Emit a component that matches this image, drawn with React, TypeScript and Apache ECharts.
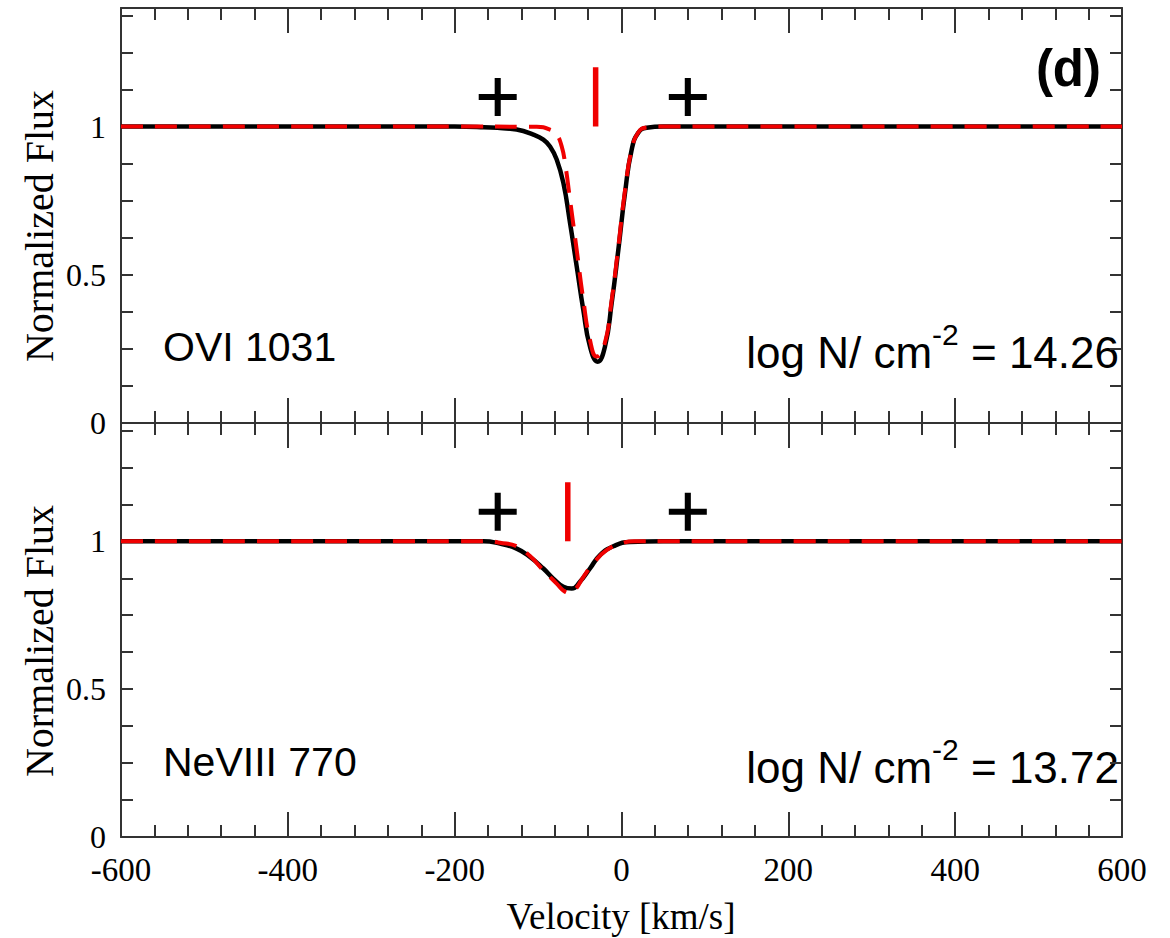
import React, { useEffect, useRef } from "react";
import * as echarts from "echarts";

// Velocity axis ticks
const velocityTicks = [-600, -400, -200, 0, 200, 400, 600];

// OVI 1031 panel: model profile (solid) and fitted profile (dashed)
const oviModelV = [-600, -400, -200, -165, -145.7, -125.7, -105.7, -93.7, -85.7, -77.7, -69.7, -61.7, -53.7, -45.8, -37.8, -28.6, -19.8, -11.8, -3.8, 4.2, 12.2, 20.1, 30.2, 50, 200, 600];
const oviModelF = [1.0, 1.0, 1.0, 0.998, 0.995, 0.99, 0.973, 0.956, 0.933, 0.889, 0.81, 0.675, 0.528, 0.382, 0.258, 0.207, 0.258, 0.404, 0.584, 0.776, 0.922, 0.979, 0.996, 1.0, 1.0, 1.0];
const oviFitV = [-600, -400, -200, -101.7, -85.7, -77.7, -71.7, -67.7, -61.7, -53.7, -45.8, -37.8, -29.8, -20, -12, -4, 4, 12, 20, 30, 50, 200, 600];
const oviFitF = [1.0, 1.0, 1.0, 0.999, 0.99, 0.973, 0.933, 0.877, 0.753, 0.584, 0.416, 0.28, 0.224, 0.27, 0.41, 0.59, 0.78, 0.92, 0.98, 0.997, 1.0, 1.0, 1.0];

// NeVIII 770 panel
const neModelV = [-600, -400, -200, -165.7, -145.7, -125.7, -109.7, -93.7, -81.8, -69.7, -59.7, -49.8, -37.8, -25.8, -9.8, 10.2, 50, 200, 600];
const neModelF = [1.0, 1.0, 1.0, 1.0, 0.992, 0.975, 0.947, 0.908, 0.874, 0.846, 0.84, 0.863, 0.908, 0.953, 0.983, 0.998, 1.0, 1.0, 1.0];
const neFitV = [-600, -400, -200, -160, -145.7, -125.7, -109.7, -93.7, -77.7, -68.5, -62, -55.5, -45.8, -33.8, -17.8, 2.2, 15, 50, 200, 600];
const neFitF = [1.0, 1.0, 1.0, 1.0, 0.995, 0.983, 0.95, 0.902, 0.857, 0.831, 0.826, 0.837, 0.879, 0.925, 0.97, 0.995, 1.0, 1.0, 1.0, 1.0];

// Component centroid velocities (red bars) and integration limits (plus marks)
const oviCentroid = -31;
const neCentroid = -64.4;
const barBottom = 1.0;
const barTop = 1.2;
const limitV = [-148.4, 79.5];
const limitF = 1.1;

const panelNames = ["OVI 1031", "NeVIII 770"];
const columnDensities = ["14.26", "13.72"];

const zip = (xs: number[], ys: number[]) => xs.map((x, i) => [x, ys[i]]);

const RED = "#f00000";
const AXIS = "#333333";
const SERIF = "'Liberation Serif', 'Times New Roman', serif";
const SANS = "'Liberation Sans', Arial, Helvetica, sans-serif";

const plusPath =
  "path://M0,42 L100,42 L100,58 L0,58 Z M42,0 L58,0 L58,100 L42,100 Z";

const LEFT = 121;
const WIDTH = 1001;
const TOPS = [8, 423];
const HEIGHTS = [415, 414];

function yLabel(v: number) {
  if (v === 0) return "0";
  if (v === 0.5) return "0.5";
  if (v === 1) return "1";
  return "";
}

export default function App() {
  const ref = useRef<HTMLDivElement>(null);

  useEffect(() => {
    if (!ref.current) return;
    const chart = echarts.init(ref.current, null, { renderer: "svg" });

    const grids = [0, 1].map((i) => ({
      left: LEFT,
      top: TOPS[i],
      width: WIDTH,
      height: HEIGHTS[i],
      containLabel: false,
    }));

    const xAxes: any[] = [];
    const yAxes: any[] = [];
    [0, 1].forEach((g) => {
      ["bottom", "top"].forEach((pos) => {
        xAxes.push({
          type: "value",
          gridIndex: g,
          position: pos,
          min: velocityTicks[0],
          max: velocityTicks[velocityTicks.length - 1],
          interval: 200,
          axisLine: { show: true, onZero: false, lineStyle: { color: AXIS, width: 2 } },
          axisTick: { show: true, inside: true, length: 25, lineStyle: { color: AXIS, width: 2 } },
          minorTick: { show: true, splitNumber: 5, length: 12, lineStyle: { color: AXIS, width: 2 } },
          splitLine: { show: false },
          minorSplitLine: { show: false },
          axisLabel: {
            show: g === 1 && pos === "bottom",
            color: "#000",
            fontFamily: SERIF,
            fontSize: 33,
            lineHeight: 26,
            margin: 20,
            formatter: (v: number) => String(v),
          },
        });
      });
      ["left", "right"].forEach((pos) => {
        yAxes.push({
          type: "value",
          gridIndex: g,
          position: pos,
          min: 0,
          max: 1.4,
          interval: 0.125,
          axisLine: { show: true, onZero: false, lineStyle: { color: AXIS, width: 2 } },
          axisTick: { show: true, inside: true, length: 12, lineStyle: { color: AXIS, width: 2 } },
          splitLine: { show: false },
          axisLabel: {
            show: pos === "left",
            color: "#000",
            fontFamily: SERIF,
            fontSize: 32,
            lineHeight: 24,
            margin: 15,
            showMaxLabel: false,
            formatter: yLabel,
          },
        });
      });
    });

    const profile = (data: number[][], g: number, dashed: boolean) => ({
      type: "line",
      xAxisIndex: g * 2,
      yAxisIndex: g * 2,
      data,
      symbol: "none",
      smooth: 0.5,
      z: dashed ? 4 : 3,
      lineStyle: dashed
        ? { color: RED, width: 4, type: [22, 12], dashOffset: 0 }
        : { color: "#000", width: 4.5 },
      silent: true,
    });

    const bar = (v: number, g: number) => ({
      type: "line",
      xAxisIndex: g * 2,
      yAxisIndex: g * 2,
      data: [
        [v, barBottom],
        [v, barTop],
      ],
      symbol: "none",
      z: 5,
      lineStyle: { color: RED, width: 5.5, cap: "butt" },
      silent: true,
    });

    const plus = (g: number) => ({
      type: "scatter",
      xAxisIndex: g * 2,
      yAxisIndex: g * 2,
      data: limitV.map((v) => [v, limitF]),
      symbol: plusPath,
      symbolSize: 38,
      itemStyle: { color: "#000", opacity: 1 },
      z: 5,
      silent: true,
    });

    const series = [
      profile(zip(oviModelV, oviModelF), 0, false),
      profile(zip(oviFitV, oviFitF), 0, true),
      profile(zip(neModelV, neModelF), 1, false),
      profile(zip(neFitV, neFitF), 1, true),
      bar(oviCentroid, 0),
      bar(neCentroid, 1),
      plus(0),
      plus(1),
    ];

    const graphic: any[] = [];
    [0, 1].forEach((g) => {
      const top = TOPS[g];
      graphic.push({
        type: "text",
        x: 39,
        y: top + 218,
        rotation: Math.PI / 2,
        style: {
          text: "Normalized Flux",
          font: `40px ${SERIF}`,
          fill: "#000",
          align: "center",
          verticalAlign: "middle",
        },
      });
      graphic.push({
        type: "text",
        x: 163,
        y: top + 339,
        style: {
          text: panelNames[g],
          font: `41px ${SANS}`,
          fill: "#000",
          align: "left",
          verticalAlign: "middle",
        },
      });
      graphic.push({
        type: "text",
        x: 1119,
        y: top + 344,
        style: {
          text: `{a|log N/ cm}{s|-2}{a| = ${columnDensities[g]}}`,
          align: "right",
          verticalAlign: "middle",
          rich: {
            a: { fontSize: 44, fontFamily: SANS, fill: "#000", lineHeight: 66 },
            s: { fontSize: 30, fontFamily: SANS, fill: "#000", verticalAlign: "top", lineHeight: 66 },
          },
        },
      });
    });
    graphic.push({
      type: "text",
      x: 1101,
      y: 68,
      style: {
        text: "(d)",
        font: `bold 51px ${SANS}`,
        fill: "#000",
        align: "right",
        verticalAlign: "middle",
      },
    });
    graphic.push({
      type: "text",
      x: 621,
      y: 916,
      style: {
        text: "Velocity [km/s]",
        font: `37px ${SERIF}`,
        fill: "#000",
        align: "center",
        verticalAlign: "middle",
      },
    });

    chart.setOption({
      animation: false,
      backgroundColor: "#fff",
      grid: grids,
      xAxis: xAxes,
      yAxis: yAxes,
      series,
      graphic,
    });

    return () => chart.dispose();
  }, []);

  return (
    <div
      ref={ref}
      style={{ position: "fixed", left: 0, top: 0, width: 1170, height: 938 }}
    />
  );
}
